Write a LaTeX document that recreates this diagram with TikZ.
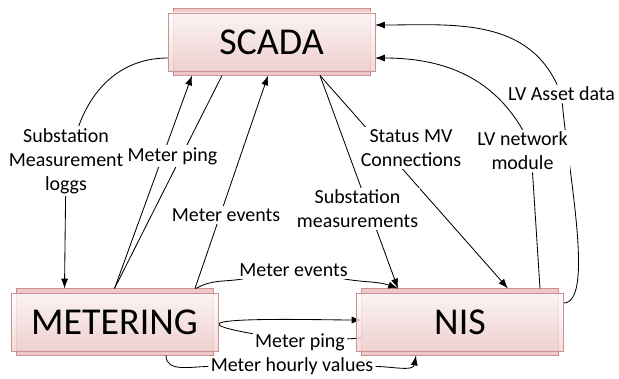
\documentclass[tikz,border=0pt]{standalone}
\usepackage{fontspec}
\setmainfont{Carlito}
\usepackage{tikz}
\usetikzlibrary{arrows.meta}
\usetikzlibrary{backgrounds}
\definecolor{boxedge}{RGB}{205,145,145}
\definecolor{boxback}{RGB}{238,200,200}
\definecolor{boxlow}{RGB}{240,210,210}
\tikzset{sysbox/.style={rectangle, draw=boxedge, line width=0.6pt, top color=white, bottom color=boxlow,
      fill opacity=0.8, text opacity=1, minimum width=5.175cm, minimum height=1.45cm, inner sep=0pt,
      outer xsep=0pt, outer ysep=3.2pt, font=\fontsize{27}{30}\selectfont}}
\tikzset{backbox/.style={draw=boxedge, fill=boxback, line width=0.6pt}}
\tikzset{lbl/.style={fill=white, inner sep=1.5pt, align=center, font=\fontsize{14.2}{17}\selectfont}}
\tikzset{wire/.style={draw=black, line width=0.6pt}}
\tikzset{flow/.style={wire, -{Latex[length=7pt,width=5pt]}}}

\begin{document}
\begin{tikzpicture}[x=0.025cm,y=0.025cm]
		\useasboundingbox (0,0) rectangle (619,-378);
		\node[sysbox] (scada) at (271.5,-42) {SCADA};
		\node[sysbox] (metering) at (114.5,-322) {METERING};
		\node[sysbox] (nis) at (460,-322) {NIS};
		\node[lbl] (loggs) at (66,-161) {Substation\\Measurement\\loggs};
		\node[lbl] (pingup) at (172.5,-156) {Meter ping};
		\node[lbl] (eventsup) at (226,-215) {Meter events};
		\node[lbl] (eventslow) at (293.5,-270) {Meter events};
		\node[lbl] (submeas) at (357.5,-209) {Substation\\measurements};
		\node[lbl] (statusmv) at (411,-148) {Status MV\\Connections};
		\node[lbl] (lvnet) at (522.5,-151) {LV network\\module};
		\node[lbl] (lvasset) at (561.5,-94) {LV Asset data};
		\node[lbl] (pinglow) at (300,-342) {Meter ping};
		\node[lbl] (hourly) at (292,-366.5) {Meter hourly values};
		\begin{scope}[on background layer]
		\foreach \n in {scada,metering,nis}
			\draw[backbox] ([shift={(5,0)}]\n.south west) rectangle ([shift={(-5,0)}]\n.north east);
		\draw[flow] ([shift={(0,-16)}]scada.west) to[out=180,in=70] (loggs) -- ([shift={(-50,0)}]metering.north);
		\draw[wire] (metering.north) -- ([shift={(-49.5,0)}]scada.south);
		\draw[flow] (metering.north) -- ([shift={(-79.5,0)}]scada.south);
		\draw[flow] ([shift={(80.5,0)}]metering.north) -- ([shift={(-3.5,0)}]scada.south);
		\draw[flow] ([shift={(81.5,0)}]metering.north) to[out=30,in=190] (eventslow) to[out=-10,in=160] ([shift={(-62,0)}]nis.north);
		\draw[flow] ([shift={(48.5,0)}]scada.south) -- ([shift={(-62,0)}]nis.north);
		\draw[flow] ([shift={(48.5,0)}]scada.south) -- ([shift={(48,0)}]nis.north);
		\draw[flow] ([shift={(80,0)}]nis.north) -- ([shift={(10,0)}]lvnet.south) (lvnet.north) to[out=120,in=0] ([shift={(0,-16)}]scada.east);
		\draw[flow] ([shift={(0,19)}]nis.east) to[out=0,in=-85,out looseness=0.4,in looseness=0.9] (lvasset) to[out=115,in=0] ([shift={(0,17)}]scada.east);
		\draw[flow] ([shift={(5,-16)}]nis.west) -- (pinglow) to[out=170,in=180,out looseness=2.5] ([shift={(5,2)}]nis.west);
		\draw[flow] ([shift={(51.5,0)}]metering.south) to[out=-90,in=180] (hourly) to[out=0,in=-100] ([shift={(-44,0)}]nis.south);
		\end{scope}
\end{tikzpicture}
\end{document}
